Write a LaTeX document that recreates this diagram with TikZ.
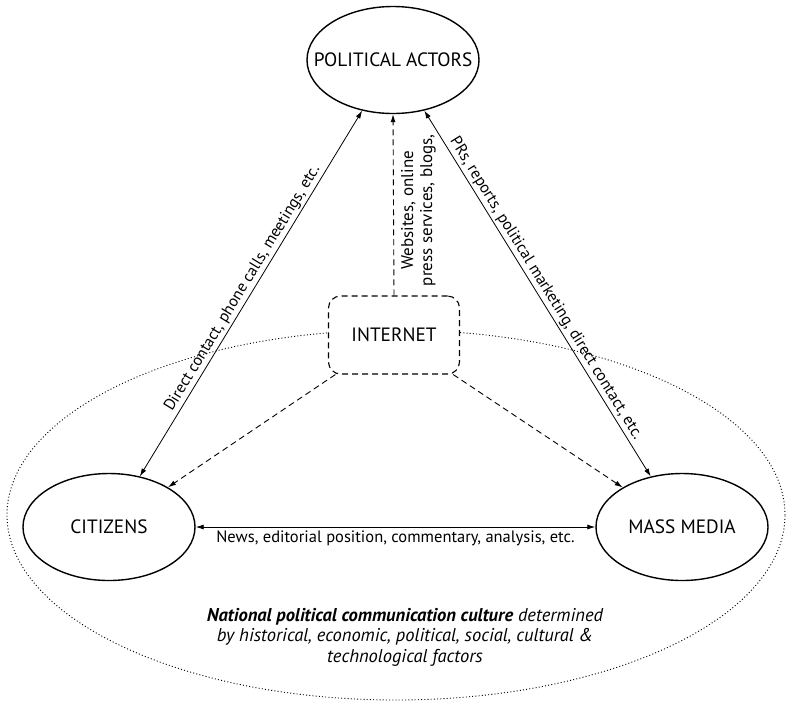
\documentclass[tikz,border=0pt]{standalone}
\usepackage{fontspec}
\setmainfont{PT Sans}
\usepackage{tikz}
\usetikzlibrary{shapes.geometric, arrows.meta}

\begin{document}
\begin{tikzpicture}[x=1pt, y=-1pt,
  actor/.style={draw, ellipse, line width=1.4pt, minimum width=172pt, minimum height=107pt, inner xsep=-20pt, inner ysep=0pt, font=\fontsize{19.3}{21}\selectfont},
  twoway/.style={{Latex[length=8pt,width=5pt]}-{Latex[length=8pt,width=5pt]}, line width=0.8pt},
  online/.style={-{Latex[length=8pt,width=5pt]}, dash pattern=on 6pt off 4pt, line width=0.9pt},
  lbl/.style={font=\fontsize{16}{19}\selectfont, inner sep=2pt}]
\useasboundingbox (0,0) rectangle (786,705);
\node[draw, ellipse, dash pattern=on 1pt off 2.2pt, line width=0.9pt, minimum width=778pt, minimum height=370pt] (culture) at (396,515) {};
\node[actor] (pa) at (393,60) {POLITICAL ACTORS};
\node[actor] (cit) at (109,527) {CITIZENS};
\node[actor] (mm) at (682,527) {MASS MEDIA};
\node[draw, dash pattern=on 6pt off 4pt, line width=1.1pt, rounded corners=12pt, fill=white, minimum width=131pt, minimum height=78pt, font=\fontsize{19.3}{21}\selectfont] (inet) at (394,335) {INTERNET};
\node[align=center, font=\fontsize{18.5}{20.5}\selectfont\itshape] (note) at (405,637) {\textbf{National political communication culture} determined\\by historical, economic, political, social, cultural \&\\technological factors};

\draw[twoway] (cit) -- node[lbl, sloped, above] {Direct contact, phone calls, meetings, etc.} (pa);
\draw[twoway] (pa) -- node[lbl, sloped, above] {PRs, reports, political marketing, direct contact, etc.} (mm);
\draw[twoway] (cit) -- node[lbl, below, inner sep=3pt, font=\fontsize{16.5}{19}\selectfont] {News, editorial position, commentary, analysis, etc.} (mm);
\draw[online] (inet.north) -- node[lbl, rotate=90, anchor=north, align=center, pos=0.47, inner sep=7pt, font=\fontsize{17}{19}\selectfont] {Websites, online\\press services, blogs,} (pa.south);
\draw[online] (inet) -- (cit);
\draw[online] (inet) -- (mm);
\end{tikzpicture}
\end{document}
